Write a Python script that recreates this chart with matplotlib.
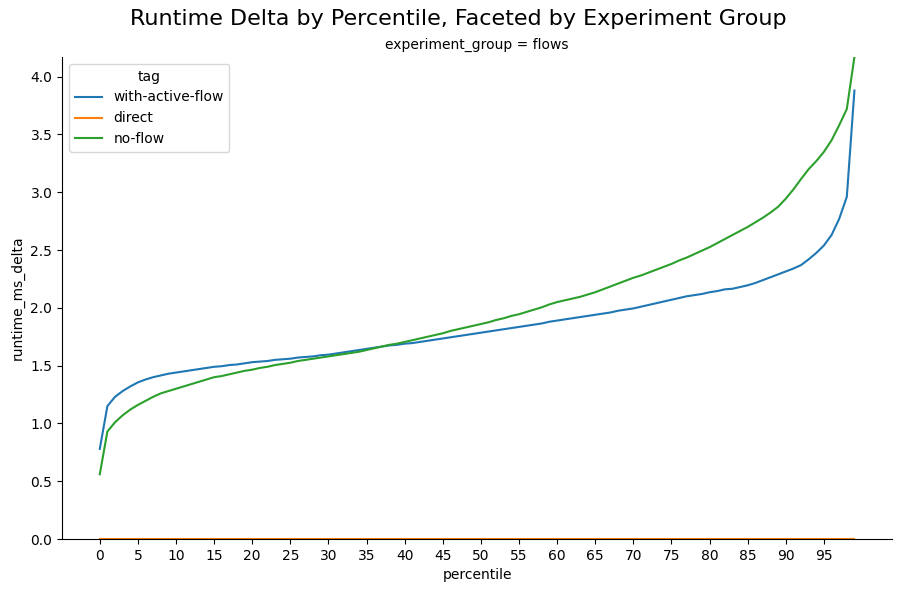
import numpy as np
import matplotlib
matplotlib.use('Agg')
import matplotlib.pyplot as plt

# percentile axis
percentile = np.arange(100)

# runtime_ms_delta per tag
with_active_flow = [
    0.78, 1.15, 1.23, 1.28, 1.32, 1.355, 1.38, 1.40, 1.415, 1.43,
    1.44, 1.45, 1.46, 1.47, 1.48, 1.49, 1.495, 1.505, 1.51, 1.52,
    1.53, 1.535, 1.54, 1.55, 1.555, 1.56, 1.57, 1.575, 1.58, 1.59,
    1.595, 1.605, 1.615, 1.625, 1.635, 1.645, 1.655, 1.665, 1.675, 1.68,
    1.69, 1.695, 1.705, 1.715, 1.725, 1.735, 1.745, 1.755, 1.765, 1.775,
    1.785, 1.795, 1.805, 1.815, 1.825, 1.835, 1.845, 1.855, 1.865, 1.88,
    1.89, 1.90, 1.91, 1.92, 1.93, 1.94, 1.95, 1.96, 1.975, 1.985,
    1.995, 2.01, 2.025, 2.04, 2.055, 2.07, 2.085, 2.10, 2.11, 2.12,
    2.135, 2.145, 2.16, 2.165, 2.18, 2.195, 2.215, 2.24, 2.265, 2.29,
    2.315, 2.34, 2.37, 2.42, 2.475, 2.54, 2.63, 2.77, 2.96, 3.88]
direct = [0.0] * 100
no_flow = [
    0.56, 0.93, 1.01, 1.07, 1.12, 1.16, 1.195, 1.23, 1.26, 1.28,
    1.30, 1.32, 1.34, 1.36, 1.38, 1.40, 1.41, 1.425, 1.44, 1.455,
    1.465, 1.48, 1.49, 1.505, 1.515, 1.525, 1.54, 1.55, 1.56, 1.57,
    1.58, 1.59, 1.60, 1.61, 1.62, 1.635, 1.65, 1.665, 1.68, 1.69,
    1.705, 1.72, 1.735, 1.75, 1.765, 1.78, 1.80, 1.815, 1.83, 1.845,
    1.86, 1.875, 1.895, 1.91, 1.93, 1.945, 1.965, 1.985, 2.005, 2.03,
    2.05, 2.065, 2.08, 2.095, 2.115, 2.135, 2.16, 2.185, 2.21, 2.235,
    2.26, 2.28, 2.305, 2.33, 2.355, 2.38, 2.41, 2.435, 2.465, 2.495,
    2.525, 2.56, 2.595, 2.63, 2.665, 2.70, 2.74, 2.78, 2.825, 2.875,
    2.945, 3.025, 3.115, 3.20, 3.27, 3.35, 3.45, 3.58, 3.72, 4.17]

tags = ['with-active-flow', 'direct', 'no-flow']
series = [with_active_flow, direct, no_flow]
colors = ['#1f77b4', '#ff7f0e', '#2ca02c']

fig = plt.figure(figsize=(9.03, 5.92), dpi=100)
ax = fig.add_axes([0.0687, 0.0895, 0.9193, 0.8142])

for tag, vals, c in zip(tags, series, colors):
    ax.plot(percentile, vals, color=c, linewidth=1.5, label=tag)

ax.set_ylim(0, max(no_flow))
ax.set_xticks(np.arange(0, 100, 5))
ax.spines['top'].set_visible(False)
ax.spines['right'].set_visible(False)
ax.set_xlabel('percentile')
ax.set_ylabel('runtime_ms_delta')
ax.set_title('experiment_group = flows', fontsize=10)
ax.legend(title='tag', loc='upper left')

fig.suptitle('Runtime Delta by Percentile, Faceted by Experiment Group', fontsize=16, x=0.507, y=0.985)

plt.savefig('out.png')
